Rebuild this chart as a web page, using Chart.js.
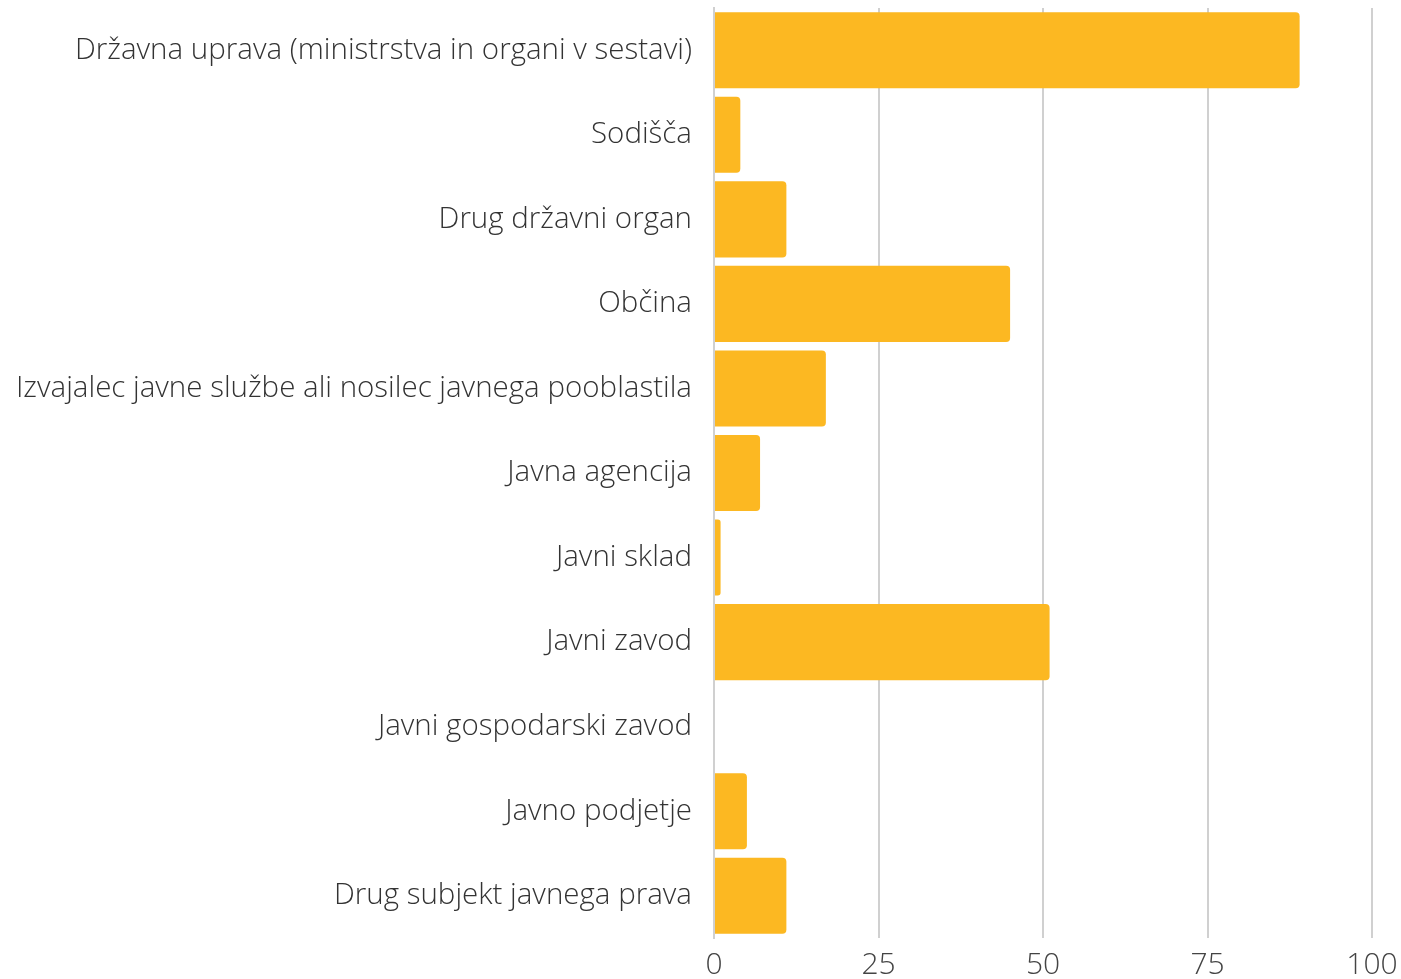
<!DOCTYPE html>
<html>
<head>
<meta charset="utf-8">
<script src="https://cdn.jsdelivr.net/npm/chart.js@4.4.1/dist/chart.umd.min.js"></script>
<style>
    html, body { margin: 0; padding: 0; overflow: hidden; background: #fff; }
    #chart { display: block; }
</style>
</head>
<body>
<canvas id="chart" width="1430" height="990"></canvas>
<script>
// Categories and values
const categories = [
    'Državna uprava (ministrstva in organi v sestavi)',
    'Sodišča',
    'Drug državni organ',
    'Občina',
    'Izvajalec javne službe ali nosilec javnega pooblastila',
    'Javna agencija',
    'Javni sklad',
    'Javni zavod',
    'Javni gospodarski zavod',
    'Javno podjetje',
    'Drug subjekt javnega prava'
];
const values = [89, 4, 11, 45, 17, 7, 1, 51, 0, 5, 11];
const xTicks = [0, 25, 50, 75, 100];

const BAR_COLOR = '#fcb822';
const GRID_COLOR = '#d0d0d0';

const ctx = document.getElementById('chart').getContext('2d');

new Chart(ctx, {
    type: 'bar',
    data: {
        labels: categories,
        datasets: [{
            data: values,
            backgroundColor: BAR_COLOR,
            borderWidth: 0,
            borderRadius: 4,
            borderSkipped: 'start',
            barPercentage: 0.9,
            categoryPercentage: 1.0
        }]
    },
    options: {
        indexAxis: 'y',
        responsive: false,
        animation: false,
        layout: { padding: { top: 8, right: 58, bottom: 0, left: 0 } },
        plugins: {
            legend: { display: false },
            tooltip: { enabled: false },
            title: { display: false }
        },
        scales: {
            x: {
                min: 0,
                max: 100,
                afterBuildTicks: function(scale) {
                    scale.ticks = xTicks.map(v => ({ value: v }));
                },
                grid: {
                    color: GRID_COLOR,
                    lineWidth: 2,
                    drawTicks: false
                },
                border: { display: false },
                ticks: {
                    padding: 9,
                    color: '#444',
                    font: { family: 'Open Sans', size: 30, weight: 300 },
                    maxRotation: 0
                },
                afterFit: function(scale) {
                    scale.height = 52;
                    scale.paddingLeft = 0;
                    scale.paddingRight = 0;
                }
            },
            y: {
                grid: { display: false, drawTicks: false },
                border: { display: true, color: GRID_COLOR, width: 2 },
                ticks: {
                    padding: 22,
                    color: '#333',
                    font: { family: 'Open Sans', size: 29.5, weight: 300 }
                },
                afterFit: function(scale) {
                    scale.width = 714;
                    scale.paddingTop = 0;
                    scale.paddingBottom = 0;
                }
            }
        }
    }
});
</script>
</body>
</html>
